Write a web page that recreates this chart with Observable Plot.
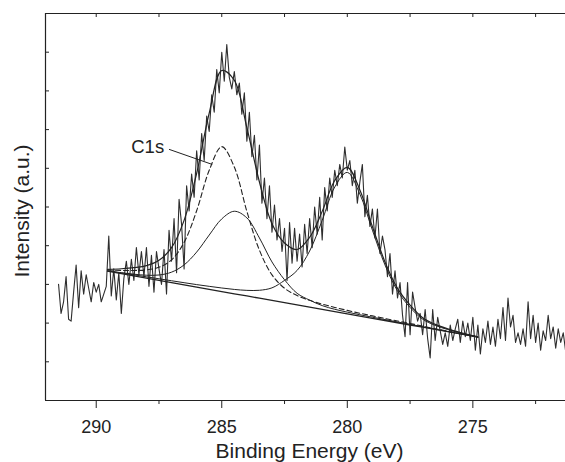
<!DOCTYPE html>
<html><head><meta charset="utf-8">
<script src="https://cdn.jsdelivr.net/npm/d3@7"></script>
<script src="https://cdn.jsdelivr.net/npm/@observablehq/plot@0.6"></script>
<style>html,body{margin:0;padding:0;background:#fff;} #chart svg{display:block;}</style>
</head><body><div id="chart"></div>
<script>
// measured spectrum: first energy and step (eV), then intensities (a.u.)
const startE = 291.5, stepE = 0.1;
const intensity = [
3.00,2.25,2.55,3.20,2.10,2.05,2.80,3.50,2.40,3.35,
2.75,3.25,2.90,2.55,3.05,2.80,3.00,2.55,2.75,2.95,
4.25,2.70,3.40,2.60,3.30,2.25,3.15,3.60,3.00,3.65,
3.10,3.95,3.25,3.85,3.20,3.95,2.95,3.75,2.80,3.85,
3.40,3.00,3.90,2.75,4.40,3.60,4.70,3.30,5.20,4.55,
3.40,5.55,4.90,5.85,5.25,6.45,5.70,6.90,6.20,7.35,
6.95,7.90,7.45,8.55,7.95,9.00,8.25,9.20,8.35,8.05,
8.50,7.90,8.20,7.40,7.95,6.70,7.45,6.30,6.85,5.70,
6.60,5.10,5.75,4.70,5.55,4.35,5.05,4.15,4.70,3.85,
4.45,3.10,4.60,3.55,4.45,3.60,4.30,3.45,4.55,3.80,
4.70,3.95,5.00,4.30,5.25,4.15,5.50,4.90,5.75,5.25,
5.95,5.55,6.10,5.75,6.55,5.95,6.20,5.55,5.95,5.10,
5.65,6.10,4.75,5.30,4.50,4.95,4.20,4.95,3.80,4.25,
3.90,3.20,3.80,2.75,3.35,2.65,3.05,2.20,1.65,3.05,
1.70,2.80,2.40,2.05,2.25,1.70,2.35,1.60,1.10,2.35,
1.55,2.15,1.80,1.45,1.75,1.40,1.95,1.55,1.85,2.10,
1.50,2.05,1.65,2.00,1.55,2.15,1.30,1.95,1.20,1.85,
1.50,2.05,1.45,1.90,1.40,2.10,1.60,2.40,1.55,2.65,
1.90,2.20,1.50,1.75,1.45,1.85,1.40,2.55,1.60,2.20,
1.50,2.00,1.30,1.80,1.55,2.20,1.60,1.90,1.35,1.85,
1.50,1.75,1.25
];

// curve-fit results sampled on an energy grid
const fitE     = [289.55,289.0,288.5,288.0,287.5,287.0,286.5,286.0,285.5,285.0,284.5,284.0,283.5,283.0,282.5,282.0,281.5,281.0,280.5,280.0,279.5,279.0,278.5,278.0,277.5,277.0,276.5,276.0,275.5,275.0,274.8];
const baseline = [3.341,3.277,3.220,3.162,3.104,3.047,2.989,2.931,2.874,2.816,2.758,2.701,2.643,2.585,2.528,2.470,2.413,2.355,2.297,2.240,2.182,2.124,2.067,2.009,1.951,1.894,1.836,1.778,1.721,1.663,1.640];
const envelope = [3.388,3.405,3.433,3.484,3.622,3.948,4.655,5.871,7.425,8.527,8.276,7.051,5.646,4.567,4.069,3.901,4.218,4.887,5.685,6.025,5.442,4.492,3.580,2.897,2.464,2.141,1.967,1.851,1.757,1.675,1.640];
const peakC1s  = [3.371,3.361,3.361,3.375,3.442,3.632,4.085,4.903,5.948,6.559,6.032,4.888,3.884,3.246,2.901,2.711,2.588,2.490,2.405,2.328,2.255,2.186,2.120,2.055,1.991,1.921,1.855,1.790,1.728,1.665,1.640];
const peakMid  = [3.350,3.302,3.264,3.237,3.243,3.316,3.504,3.835,4.275,4.693,4.890,4.719,4.200,3.580,3.120,2.770,2.593,2.452,2.357,2.283,2.216,2.152,2.091,2.029,1.969,1.906,1.844,1.783,1.724,1.664,1.640];
const peakLow  = [3.349,3.296,3.247,3.196,3.145,3.094,3.044,2.995,2.950,2.907,2.870,2.846,2.848,2.911,3.104,3.360,3.863,4.655,5.517,5.894,5.335,4.402,3.503,2.831,2.406,2.102,1.941,1.834,1.748,1.671,1.640];

const xMajorTicks = [290, 285, 280, 275];
const xMinorTicks = [287.5, 282.5, 277.5, 272.5];
const yTicks = [1, 2, 3, 4, 5, 6, 7, 8, 9];
const xDomain = [292.02, 271.31];
const yDomain = [0, 10];
const xTitle = "Binding Energy (eV)";
const yTitle = "Intensity (a.u.)";
const annotation = [{text: "C1s", E: 287.95, I: 6.55, fromE: 287.1, fromI: 6.49, toE: 285.38, toI: 6.1}];

const spectrum = intensity.map((v, i) => ({E: +(startE - i * stepE).toFixed(2), I: v}));
const fit = fitE.map((E, i) => ({E, base: baseline[i], env: envelope[i], c1: peakC1s[i], mid: peakMid[i], low: peakLow[i]}));

const ink = "#222";
const font = "'Liberation Sans', Arial, Helvetica, sans-serif";
const chart = Plot.plot({
  width: 565, height: 462,
  marginLeft: 45, marginRight: 0, marginTop: 13, marginBottom: 62,
  x: {domain: xDomain, label: null},
  y: {domain: yDomain, label: null},
  style: {fontFamily: font, color: ink, background: "#fff"},
  marks: [
    Plot.line(spectrum, {x: "E", y: "I", stroke: "#2e2e2e", strokeWidth: 1.1}),
    Plot.line(fit, {x: "E", y: "base", stroke: ink, strokeWidth: 1.3}),
    Plot.line(fit, {x: "E", y: "mid", curve: "catmull-rom", stroke: ink, strokeWidth: 1}),
    Plot.line(fit, {x: "E", y: "low", curve: "catmull-rom", stroke: ink, strokeWidth: 1}),
    Plot.line(fit, {x: "E", y: "c1", curve: "catmull-rom", stroke: ink, strokeWidth: 1.1, strokeDasharray: "5,3"}),
    Plot.line(fit, {x: "E", y: "env", curve: "catmull-rom", stroke: ink, strokeWidth: 1.2}),
    Plot.link(annotation, {x1: "fromE", y1: "fromI", x2: "toE", y2: "toI", stroke: ink, strokeWidth: 1}),
    Plot.text(annotation, {x: "E", y: "I", text: "text", fontSize: 18.5, fill: ink}),
    Plot.ruleY([yDomain[0]], {stroke: ink, strokeWidth: 1.2}),
    Plot.ruleY([yDomain[1]], {stroke: ink, strokeWidth: 1.2}),
    Plot.ruleX([xDomain[0]], {stroke: ink, strokeWidth: 1.2}),
    Plot.axisX(xMajorTicks, {tickSize: 8, tickPadding: 12, fontSize: 18, label: null}),
    Plot.axisX(xMinorTicks, {tickSize: 4, tickFormat: () => "", label: null}),
    Plot.axisX([...xMajorTicks, ...xMinorTicks], {anchor: "top", tickSize: -3, tickFormat: () => "", label: null}),
    Plot.axisY(yTicks, {tickSize: -4, tickFormat: () => "", label: null}),
    Plot.text([xTitle], {text: d => d, frameAnchor: "bottom", dx: 4, dy: 57, lineAnchor: "bottom", fontSize: 21, fill: ink}),
    Plot.text([yTitle], {text: d => d, frameAnchor: "left", textAnchor: "middle", lineAnchor: "middle", dx: -23.4, dy: 4, rotate: -90, fontSize: 21, fill: ink})
  ]
});
document.getElementById("chart").append(chart);
</script>
</body></html>
